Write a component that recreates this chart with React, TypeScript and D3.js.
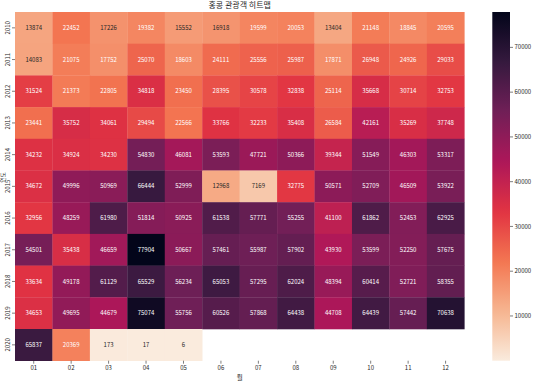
import React from "react";
import * as d3 from "d3";

const years = ["2010","2011","2012","2013","2014","2015","2016","2017","2018","2019","2020"];
const months = ["01","02","03","04","05","06","07","08","09","10","11","12"];
const values: (number | null)[][] = [
  [13874, 22452, 17226, 19382, 15552, 16918, 19599, 20053, 13404, 21148, 18845, 20595],
  [14083, 21075, 17752, 25070, 18603, 24111, 25556, 25987, 17871, 26948, 24926, 29033],
  [31524, 21373, 22805, 34818, 23450, 28395, 30578, 32838, 25114, 35668, 30714, 32753],
  [23441, 35752, 34061, 29494, 22566, 33766, 32233, 35408, 26584, 42161, 35269, 37748],
  [34232, 34924, 34230, 54830, 46081, 53593, 47721, 50366, 39344, 51549, 46303, 53317],
  [34672, 49996, 50969, 66444, 52999, 12968, 7169, 32775, 50571, 52709, 46509, 53922],
  [32956, 48259, 61980, 51814, 50925, 61538, 57771, 55255, 41100, 61862, 52453, 62925],
  [54501, 35438, 46659, 77904, 50667, 57461, 55987, 57902, 43930, 53599, 52250, 57675],
  [33634, 49178, 61129, 65529, 56234, 65053, 57295, 62024, 48394, 60414, 52721, 58355],
  [34653, 49695, 44679, 75074, 55756, 60526, 57868, 64438, 44708, 64439, 57442, 70638],
  [65837, 20369, 173, 17, 6, null, null, null, null, null, null, null],
];
const cbTicks = [10000, 20000, 30000, 40000, 50000, 60000, 70000];
const title = "홍콩 관광객 히트맵";
const xLabel = "월";
const yLabel = "연도";

// rocket colormap stops (dark -> light)
const rocketStops = ["#03051A", "#35193E", "#701F57", "#AD1759", "#E13342", "#F37651", "#F6B48F", "#FAEBDD"];

const FONT = "'Noto Sans CJK KR', 'DejaVu Sans', sans-serif";

export default function App() {
  const left = 15, right = 464.3, top = 12, bottom = 360.7;
  const cbLeft = 492.3, cbRight = 510;

  const flat = values.flat().filter((v): v is number => v != null);
  const vmin = d3.min(flat)!;
  const vmax = d3.max(flat)!;

  const rocket = d3.scaleLinear<string>()
    .domain(rocketStops.map((_, i) => i / (rocketStops.length - 1)))
    .range(rocketStops)
    .interpolate(d3.interpolateRgb);
  const norm = d3.scaleLinear().domain([vmin, vmax]).range([0, 1]).clamp(true);
  const color = (v: number) => rocket(1 - norm(v));

  const x = d3.scaleBand().domain(months).range([left, right]);
  const y = d3.scaleBand().domain(years).range([top, bottom]);
  const cbY = d3.scaleLinear().domain([vmin, vmax]).range([bottom, top]);

  const lum = (c: string) => {
    const rgb = d3.rgb(c);
    const f = (u: number) => {
      const s = u / 255;
      return s <= 0.03928 ? s / 12.92 : Math.pow((s + 0.055) / 1.055, 2.4);
    };
    return 0.2126 * f(rgb.r) + 0.7152 * f(rgb.g) + 0.0722 * f(rgb.b);
  };
  const lumThreshold = lum(color(17500));

  const gradStops = d3.range(0, 1.0001, 0.02);

  return (
    <svg width={534} height={388} style={{ position: "absolute", left: 0, top: 0, background: "#fff" }} fontFamily={FONT}>
      <defs>
        <linearGradient id="cb" x1="0" y1="1" x2="0" y2="0">
          {gradStops.map((t) => (
            <stop key={t} offset={t} stopColor={color(vmin + t * (vmax - vmin))} />
          ))}
        </linearGradient>
      </defs>
      <text x={(left + right) / 2} y={8} textAnchor="middle" fontSize={8} fill="#262626">{title}</text>
      {values.map((row, i) =>
        row.map((v, j) =>
          v == null ? null : (
            <rect key={`r${i}-${j}`} x={x(months[j])!} y={y(years[i])!} width={x.bandwidth() + 0.3} height={y.bandwidth() + 0.3} fill={color(v)} />
          )
        )
      )}
      {values.map((row, i) =>
        row.map((v, j) => {
          if (v == null) return null;
          const c = color(v);
          const tc = lum(c) > lumThreshold ? "#262626" : "#ffffff";
          return (
            <text key={`t${i}-${j}`} x={x(months[j])! + x.bandwidth() / 2} y={y(years[i])! + y.bandwidth() / 2} dy="0.35em" textAnchor="middle" fontSize={6} fill={tc}>{v}</text>
          );
        })
      )}
      {years.map((yr) => {
        const cy = y(yr)! + y.bandwidth() / 2;
        return (
          <g key={yr}>
            <line x1={left - 3} x2={left} y1={cy} y2={cy} stroke="#262626" strokeWidth={0.6} />
            <text transform={`translate(${9.5},${cy}) rotate(-90)`} textAnchor="middle" fontSize={6} fill="#262626">{yr}</text>
          </g>
        );
      })}
      {months.map((m) => {
        const cx = x(m)! + x.bandwidth() / 2;
        return (
          <g key={m}>
            <line x1={cx} x2={cx} y1={bottom} y2={bottom + 3} stroke="#262626" strokeWidth={0.6} />
            <text x={cx} y={bottom + 9.5} textAnchor="middle" fontSize={6} fill="#262626">{m}</text>
          </g>
        );
      })}
      <text x={(left + right) / 2} y={bottom + 19} textAnchor="middle" fontSize={6.5} fill="#262626">{xLabel}</text>
      <text transform={`translate(${4.8},${(top + bottom) / 2 - 9}) rotate(-90)`} textAnchor="middle" fontSize={5.5} fill="#262626">{yLabel}</text>
      <rect x={cbLeft} y={top} width={cbRight - cbLeft} height={bottom - top} fill="url(#cb)" />
      {cbTicks.map((t) => (
        <g key={t}>
          <line x1={cbRight} x2={cbRight + 3} y1={cbY(t)} y2={cbY(t)} stroke="#262626" strokeWidth={0.6} />
          <text x={cbRight + 4.5} y={cbY(t)} dy="0.35em" fontSize={6} fill="#262626">{t}</text>
        </g>
      ))}
    </svg>
  );
}
